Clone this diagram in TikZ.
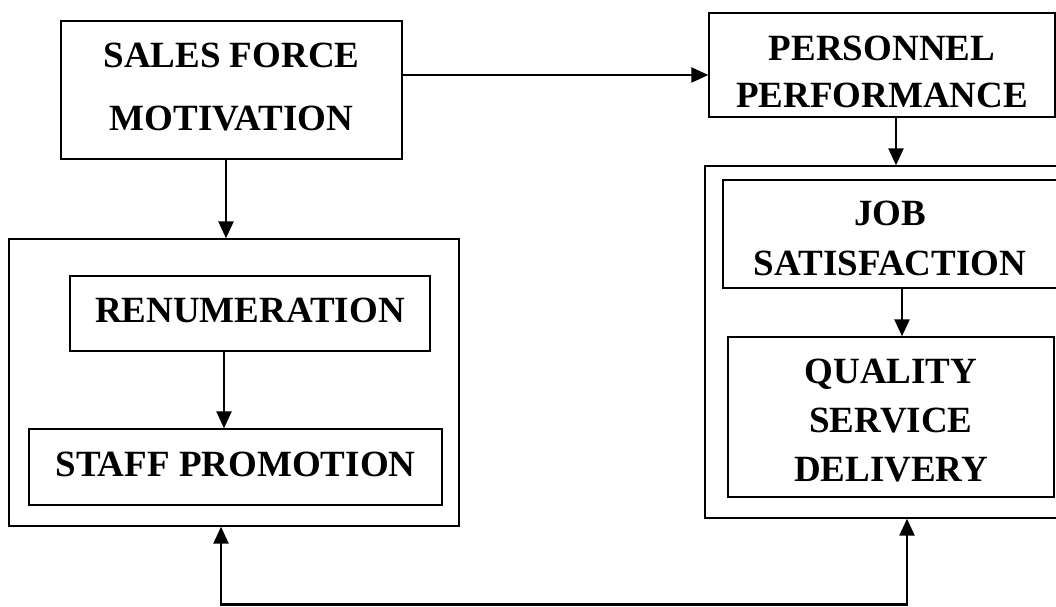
\documentclass[tikz,border=0pt]{standalone}
\usepackage{fontspec}
\setmainfont{Liberation Serif}
\usetikzlibrary{arrows.meta}
\tikzset{
  box/.style={draw, line width=1.4pt, rectangle, inner sep=0pt, align=center},
  grp/.style={draw, line width=1.4pt, rectangle, inner sep=0pt},
  arr/.style={line width=2.5pt, -{Triangle[length=17pt,width=15pt]}},
  arr2/.style={line width=2.5pt, {Triangle[length=17pt,width=15pt]}-{Triangle[length=17pt,width=15pt]}},
}
\newcommand{\lbl}[1]{\fontsize{37}{#1}\selectfont\bfseries}
\begin{document}
\begin{tikzpicture}[x=1pt,y=-1pt]
\useasboundingbox (0,0) rectangle (1056,606);
\clip (0,0) rectangle (1056,606);
% containers
\node[grp, minimum width=450pt, minimum height=287pt] (lc) at (234,382.5) {};
\node[grp, minimum width=370pt, minimum height=352pt] (rc) at (890,342) {};
% boxes
\node[box, minimum width=341pt, minimum height=138pt, font=\lbl{63pt}, text height=80pt, text depth=0pt] (sfm) at (231.5,90) {SALES FORCE\\MOTIVATION};
\node[box, minimum width=346pt, minimum height=104pt, font=\lbl{47pt}, text height=84pt, text depth=0pt] (pp) at (882,65) {PERSONNEL\\PERFORMANCE};
\node[box, minimum width=334pt, minimum height=108pt, font=\lbl{50pt}, text height=82pt, text depth=0pt] (job) at (890,234) {JOB\\SATISFACTION};
\node[box, minimum width=326pt, minimum height=160pt, font=\lbl{49pt}, text height=128pt, text depth=0pt] (q) at (891,417) {QUALITY\\SERVICE\\DELIVERY};
\node[box, minimum width=360pt, minimum height=75pt, font=\lbl{44pt}, text height=17pt, text depth=0pt] (ren) at (250,313.5) {RENUMERATION};
\node[box, minimum width=413pt, minimum height=76pt, font=\lbl{44pt}, text height=18pt, text depth=0pt] (sp) at (235.5,467) {STAFF PROMOTION};
% helper coordinates
\coordinate (h1) at (0,75);
\coordinate (a1) at (226,0);
\coordinate (a2) at (896,0);
\coordinate (a3) at (224,0);
\coordinate (a4) at (902,0);
\coordinate (b1) at (221,604.5);
\coordinate (b2) at (907,604.5);
% connectors
\draw[arr] (sfm.east |- h1) -- (pp.west |- h1);
\draw[arr] (sfm.south -| a1) -- (lc.north -| a1);
\draw[arr] (pp.south -| a2) -- (rc.north -| a2);
\draw[arr] (ren.south -| a3) -- (sp.north -| a3);
\draw[arr] (job.south -| a4) -- (q.north -| a4);
\draw[arr2] (lc.south -| b1) -- (b1) -- (b2) -- (rc.south -| b2);
\end{tikzpicture}
\end{document}
